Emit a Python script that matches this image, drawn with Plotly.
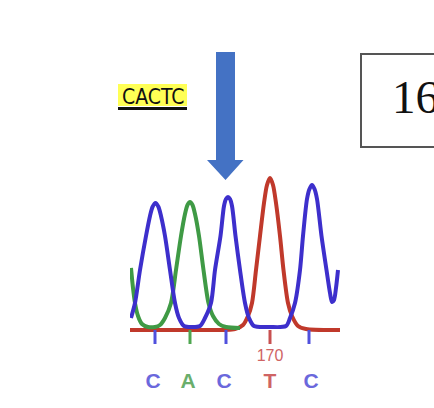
import plotly.graph_objects as go

W, H = 434, 408

# ---- chromatogram data (scan index vs. signal) ----
blue_x = [1, 5, 10, 16, 20, 22.5, 25.5, 28.5, 31, 35, 40, 45, 49, 54, 62, 70, 75, 81, 85, 90.5, 94,
          96, 98, 100, 102, 105.5, 110, 115, 119, 124, 140, 156, 160, 165, 170, 173, 177, 179.5, 182,
          184.5, 187, 191.5, 196.5, 200, 202, 204, 206, 208]
blue_y = [12, 27, 60, 94, 114, 123, 127, 123, 114, 94, 60, 27, 12, 4, 3, 4, 12, 27, 60, 94, 124,
          131, 133, 131, 124, 94, 60, 27, 12, 4, 3, 4, 12, 27, 60, 94, 131, 141, 145,
          141, 131, 94, 60, 37, 28, 30, 42, 60]

green_x = [1, 3, 5, 8, 12, 18, 25, 30, 35, 41, 46, 51, 55, 57.5, 60, 62.5, 65, 69, 73.5, 78.5, 83,
           89, 96, 110]
green_y = [62, 42, 27, 14, 6, 3, 3, 5, 12, 27, 60, 94, 116, 125, 128, 125, 116, 94, 60, 27, 14,
           6, 3, 2]

red_x = [0, 60, 105, 113, 118, 122, 126, 130, 134, 137, 140, 143, 146, 150, 153.5, 158, 162, 168,
         176, 210]
red_y = [0, 0, 1, 5, 14, 27, 60, 94, 127, 145, 152, 145, 127, 94, 60, 27, 14, 4, 1, 0]

base_calls = ["C", "A", "C", "T", "C"]
base_tick_x = [25, 60, 96, 140, 179]
base_letter_x = [23, 58, 94, 140, 181]
position_label = "170"
position_label_x = 140

sequence_text = "CACTC"
box_text = "16"

line_colors = {"C": "#3d2fcc", "A": "#3f9a45", "T": "#c0392b"}
tick_colors = {"C": "#5050dd", "A": "#4fa650", "T": "#c85050"}
letter_colors = {"C": "#6b68dc", "A": "#6aae6c", "T": "#cf6464"}


def px(x):
    return x / W


def py(y):
    return 1 - y / H


fig = go.Figure()

fig.add_trace(go.Scatter(x=red_x, y=red_y, mode="lines",
                         line=dict(color=line_colors["T"], width=4, shape="spline", smoothing=0.8),
                         hoverinfo="skip"))
fig.add_trace(go.Scatter(x=green_x, y=green_y, mode="lines",
                         line=dict(color=line_colors["A"], width=4, shape="spline", smoothing=0.8),
                         hoverinfo="skip"))
fig.add_trace(go.Scatter(x=blue_x, y=blue_y, mode="lines",
                         line=dict(color=line_colors["C"], width=4, shape="spline", smoothing=0.8),
                         hoverinfo="skip"))

# base call tick marks
fig.add_trace(go.Scatter(x=base_tick_x, y=[-7] * len(base_tick_x), mode="markers",
                         marker=dict(symbol="line-ns", size=10,
                                     line=dict(width=3, color=[tick_colors[b] for b in base_calls])),
                         hoverinfo="skip", cliponaxis=False))

# base letters
fig.add_trace(go.Scatter(x=base_letter_x, y=[-53] * len(base_letter_x), mode="text",
                         text=[f"<b>{b}</b>" for b in base_calls],
                         textfont=dict(family="Liberation Sans, Arial", size=21,
                                       color=[letter_colors[b] for b in base_calls]),
                         textposition="middle center", hoverinfo="skip", cliponaxis=False))

# position label
fig.add_trace(go.Scatter(x=[position_label_x], y=[-27], mode="text", text=[position_label],
                         textfont=dict(family="Liberation Sans, Arial", size=16, color=letter_colors["T"]),
                         textposition="middle center", hoverinfo="skip", cliponaxis=False))

shapes = []
# highlight behind sequence text
shapes.append(dict(type="rect", xref="paper", yref="paper", x0=px(118), x1=px(187), y0=py(106), y1=py(84),
                   fillcolor="#ffff55", line=dict(width=0), layer="below"))
# underline
shapes.append(dict(type="line", xref="paper", yref="paper", x0=px(118), x1=px(187), y0=py(108.5), y1=py(108.5),
                   line=dict(color="#111111", width=3)))
# arrow
arrow_pts = [(216, 52), (235, 52), (235, 160), (243.5, 160), (225.5, 180), (207, 160), (216, 160)]
path = "M " + " L ".join(f"{px(a):.5f},{py(b):.5f}" for a, b in arrow_pts) + " Z"
shapes.append(dict(type="path", xref="paper", yref="paper", path=path,
                   fillcolor="#4472c4", line=dict(width=0)))
# box
shapes.append(dict(type="rect", xref="paper", yref="paper", x0=px(361), x1=px(445), y0=py(147), y1=py(54),
                   line=dict(color="#555555", width=2), fillcolor="rgba(0,0,0,0)"))

annotations = [
    dict(x=px(152.5), y=py(97), xref="paper", yref="paper", text=sequence_text, showarrow=False,
         xanchor="center", yanchor="middle",
         font=dict(family="DejaVu Sans Condensed, Liberation Sans Narrow, Liberation Sans", size=21,
                   color="#111111")),
    dict(x=px(390), y=py(97), xref="paper", yref="paper", text=box_text, showarrow=False,
         xanchor="left", yanchor="middle",
         font=dict(family="Liberation Serif, Times New Roman", size=47, color="#111111")),
]

fig.update_layout(
    width=W, height=H, autosize=False,
    margin=dict(l=0, r=0, t=0, b=0),
    paper_bgcolor="white", plot_bgcolor="white",
    showlegend=False,
    shapes=shapes, annotations=annotations,
    xaxis=dict(domain=[px(130), px(342)], range=[0, 212], visible=False, fixedrange=True),
    yaxis=dict(domain=[py(400), py(170)], range=[-70, 160], visible=False, fixedrange=True),
)

fig.write_html("out.html", config={"displayModeBar": False},
               post_script="document.body.style.margin='0';document.body.style.overflow='hidden';")
